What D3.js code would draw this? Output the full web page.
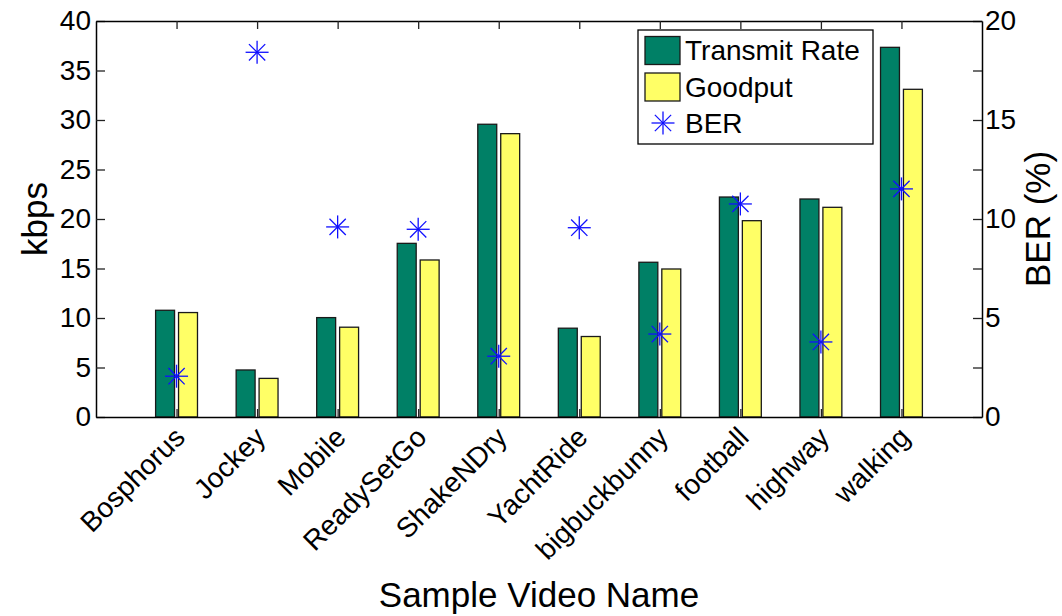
<!DOCTYPE html>
<html>
<head>
<meta charset="utf-8">
<script src="https://cdn.jsdelivr.net/npm/d3@7"></script>
<style>
  body { margin: 0; background: #fff; }
  text { font-family: "Liberation Sans", Arial, Helvetica, sans-serif; }
</style>
</head>
<body>
<div id="viz"></div>
<script>
// data
var videos = ["Bosphorus", "Jockey", "Mobile", "ReadySetGo", "ShakeNDry", "YachtRide", "bigbuckbunny", "football", "highway", "walking"];
var transmitRate = [10.78, 4.75, 10.04, 17.54, 29.57, 8.97, 15.63, 22.22, 22.02, 37.34];
var goodput = [10.55, 3.9, 9.07, 15.86, 28.62, 8.13, 14.95, 19.83, 21.18, 33.1];
var ber = [2.06, 18.42, 9.6, 9.48, 3.07, 9.56, 4.19, 10.76, 3.79, 11.52];
var leftTicks = [0, 5, 10, 15, 20, 25, 30, 35, 40];
var rightTicks = [0, 2.5, 5, 7.5, 10, 12.5, 15, 17.5, 20];

var seriesNames = ["Transmit Rate", "Goodput"];
var seriesColours = ["#008066", "#ffff66"];
var berColour = "#1010ff";

var width = 1062, height = 616;
var margin = {top: 21, right: 80, bottom: 199, left: 96};
var plotW = width - margin.left - margin.right;   // 886
var plotH = height - margin.top - margin.bottom;  // 396

var svg = d3.select("#viz").append("svg")
  .attr("width", width)
  .attr("height", height);

var g = svg.append("g")
  .attr("transform", "translate(" + margin.left + "," + margin.top + ")");

// scales (matlab style: categories at 1..10, xlim 0..11)
var x = d3.scaleLinear().domain([0, videos.length + 1]).range([0, plotW]);
var y = d3.scaleLinear().domain([0, 40]).range([plotH, 0]);
var yR = d3.scaleLinear().domain([0, 20]).range([plotH, 0]);
var step = x(1) - x(0);
var inner = d3.scaleBand().domain(seriesNames)
  .range([-0.26 * step, 0.26 * step])
  .paddingInner(0.174);

// bars
var rows = videos.map(function(v, i) {
  return {name: v, i: i, vals: [transmitRate[i], goodput[i]]};
});

var groups = g.selectAll("g.grp")
  .data(rows)
  .enter()
  .append("g")
  .attr("class", "grp")
  .attr("transform", function(d) { return "translate(" + x(d.i + 1) + ",0)"; });

groups.selectAll("rect")
  .data(function(d) { return d.vals.map(function(v, k) { return {s: seriesNames[k], v: v, k: k}; }); })
  .enter()
  .append("rect")
  .attr("x", function(d) { return inner(d.s); })
  .attr("width", inner.bandwidth())
  .attr("y", function(d) { return y(d.v); })
  .attr("height", function(d) { return plotH - y(d.v); })
  .attr("fill", function(d) { return seriesColours[d.k]; })
  .attr("stroke", "#1a1a1a")
  .attr("stroke-width", 1.3);

// asterisk marker
function star(sel, r) {
  var a = r * 0.7071;
  var segs = [[-r, 0, r, 0], [0, -r, 0, r], [-a, -a, a, a], [-a, a, a, -a]];
  segs.forEach(function(s) {
    sel.append("line")
      .attr("x1", s[0]).attr("y1", s[1])
      .attr("x2", s[2]).attr("y2", s[3])
      .attr("stroke", berColour)
      .attr("stroke-width", 1.3);
  });
}

g.selectAll("g.ber")
  .data(ber)
  .enter()
  .append("g")
  .attr("class", "ber")
  .attr("transform", function(d, i) { return "translate(" + x(i + 1) + "," + yR(d) + ")"; })
  .each(function() { star(d3.select(this), 11.5); });

// axes
var tickFont = 28;

var leftAx = g.append("g")
  .call(d3.axisLeft(y).tickValues(leftTicks).tickSizeInner(-9).tickSizeOuter(0).tickPadding(5));

var rightAx = g.append("g")
  .attr("transform", "translate(" + plotW + ",0)")
  .call(d3.axisRight(yR).tickValues(rightTicks).tickSizeInner(-9).tickSizeOuter(0).tickPadding(3)
    .tickFormat(function(d) { return d % 5 === 0 ? d : ""; }));

var bottomAx = g.append("g")
  .attr("transform", "translate(0," + plotH + ")")
  .call(d3.axisBottom(x).tickValues(d3.range(1, videos.length + 1)).tickSizeInner(-8).tickSizeOuter(0).tickFormat(""));

var topAx = g.append("g")
  .call(d3.axisTop(x).tickValues(d3.range(1, videos.length + 1)).tickSizeInner(-8).tickSizeOuter(0).tickFormat(""));

[leftAx, rightAx, bottomAx, topAx].forEach(function(ax) {
  ax.select(".domain").attr("stroke", "#000").attr("stroke-width", 1.5);
  ax.selectAll(".tick line").attr("stroke", "#222").attr("stroke-width", 1.3);
  ax.selectAll("text")
    .attr("fill", "#000")
    .style("font-size", tickFont + "px")
    .style("font-family", "'Liberation Sans', Arial, sans-serif");
});

// rotated category labels
g.selectAll("text.cat")
  .data(videos)
  .enter()
  .append("text")
  .attr("class", "cat")
  .attr("text-anchor", "end")
  .attr("transform", function(d, i) { return "translate(" + (x(i + 1) + 10) + "," + (plotH + 22) + ") rotate(-45)"; })
  .style("font-size", "28px")
  .text(function(d) { return d; });

// axis titles
svg.append("text")
  .attr("text-anchor", "middle")
  .attr("transform", "translate(47," + (margin.top + plotH / 2) + ") rotate(-90)")
  .style("font-size", "35px")
  .text("kbps");

svg.append("text")
  .attr("text-anchor", "middle")
  .attr("transform", "translate(1050," + (margin.top + plotH / 2) + ") rotate(-90)")
  .style("font-size", "35px")
  .text("BER (%)");

svg.append("text")
  .attr("text-anchor", "middle")
  .attr("x", margin.left + plotW / 2)
  .attr("y", 607)
  .style("font-size", "35px")
  .text("Sample Video Name");

// legend
var legend = svg.append("g").attr("transform", "translate(638,30)");
legend.append("rect")
  .attr("width", 235).attr("height", 114)
  .attr("fill", "#fff").attr("stroke", "#000").attr("stroke-width", 1.3);

seriesNames.forEach(function(s, k) {
  var ly = 6.5 + k * 36.5;
  legend.append("rect")
    .attr("x", 7).attr("y", ly)
    .attr("width", 35).attr("height", 28)
    .attr("fill", seriesColours[k])
    .attr("stroke", "#1a1a1a").attr("stroke-width", 1.3);
  legend.append("text")
    .attr("x", 47).attr("y", ly + 14).attr("dy", "0.35em")
    .style("font-size", "28px")
    .text(s);
});
star(legend.append("g").attr("transform", "translate(25,93)"), 11.5);
legend.append("text")
  .attr("x", 47).attr("y", 93).attr("dy", "0.35em")
  .style("font-size", "28px")
  .text("BER");
</script>
</body>
</html>
